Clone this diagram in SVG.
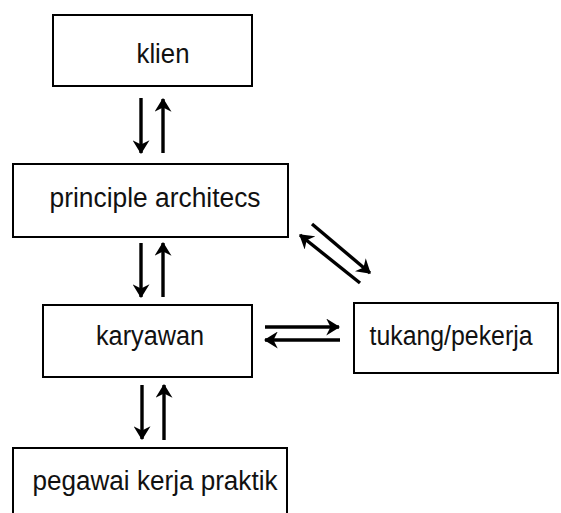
<svg xmlns="http://www.w3.org/2000/svg" width="561" height="513" viewBox="0 0 561 513">
<defs>
<style>
.box{fill:#fff;stroke:#000;stroke-width:2}
.lbl{font-family:"Liberation Sans",Arial,sans-serif;font-size:27px;fill:#111;text-anchor:middle}
.arr{stroke:#000;stroke-width:3.4;fill:none;marker-end:url(#ah)}
</style>
<marker id="ah" markerUnits="userSpaceOnUse" markerWidth="14" markerHeight="17" viewBox="0 0 13 16" refX="12" refY="8" orient="auto">
<path d="M0,0 L13,8 L0,16 L4,8 z" fill="#000"/>
</marker>
</defs>
<rect width="561" height="513" fill="#fff"/>
<g id="klien"><rect class="box" x="53" y="15" width="199" height="71"/><text class="lbl" x="163" y="63" textLength="53" lengthAdjust="spacingAndGlyphs">klien</text></g>
<g id="principle"><rect class="box" x="13" y="164" width="275" height="73"/><text class="lbl" x="155" y="207" textLength="211" lengthAdjust="spacingAndGlyphs">principle architecs</text></g>
<g id="karyawan"><rect class="box" x="43" y="305" width="209" height="72"/><text class="lbl" x="150" y="345" textLength="108" lengthAdjust="spacingAndGlyphs">karyawan</text></g>
<g id="tukang"><rect class="box" x="354" y="303" width="204" height="70"/><text class="lbl" x="451" y="345" textLength="163" lengthAdjust="spacingAndGlyphs">tukang/pekerja</text></g>
<g id="pegawai"><rect class="box" x="13" y="448" width="274" height="80"/><text class="lbl" x="155" y="490" textLength="245" lengthAdjust="spacingAndGlyphs">pegawai kerja praktik</text></g>
<g id="connectors">
<line class="arr" x1="141" y1="98" x2="141" y2="153"/>
<line class="arr" x1="163" y1="153" x2="163" y2="99"/>
<line class="arr" x1="141" y1="243" x2="141" y2="297"/>
<line class="arr" x1="163" y1="297" x2="163" y2="243"/>
<line class="arr" x1="142" y1="385" x2="142" y2="439"/>
<line class="arr" x1="164" y1="440" x2="164" y2="385"/>
<line class="arr" x1="265" y1="327" x2="339" y2="327"/>
<line class="arr" x1="340" y1="340" x2="265" y2="340"/>
<line class="arr" x1="312" y1="224" x2="370" y2="273"/>
<line class="arr" x1="360" y1="283" x2="300" y2="235"/>
</g>
</svg>
